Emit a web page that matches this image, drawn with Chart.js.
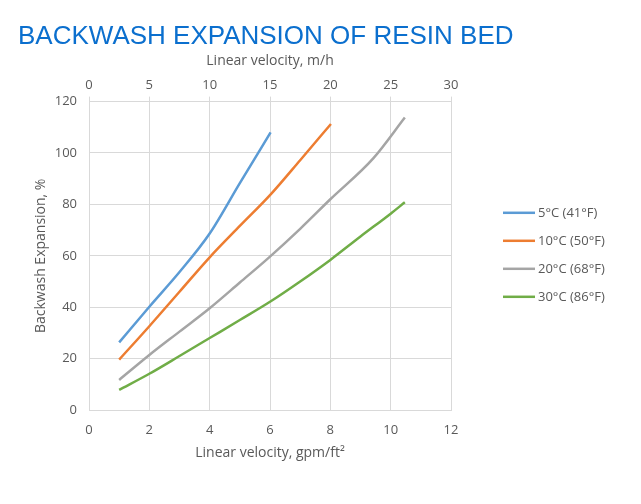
<!DOCTYPE html>
<html>
<head>
<meta charset="utf-8">
<script src="https://cdn.jsdelivr.net/npm/chart.js@4/dist/chart.umd.min.js"></script>
<style>
  html, body { margin: 0; padding: 0; background: #ffffff; }
  #wrap { position: relative; width: 641px; height: 504px; }
</style>
</head>
<body>
<div id="wrap"><canvas id="c" width="641" height="504"></canvas></div>
<script>
const chartTitle = "BACKWASH EXPANSION OF RESIN BED";
const topAxisTitle = "Linear velocity, m/h";
const bottomAxisTitle = "Linear velocity, gpm/ft\u00B2";
const yAxisTitle = "Backwash Expansion, %";

const seriesNames = ["5\u00B0C (41\u00B0F)", "10\u00B0C (50\u00B0F)", "20\u00B0C (68\u00B0F)", "30\u00B0C (86\u00B0F)"];
const seriesColors = ["#5b9bd5", "#ed7d31", "#a5a5a5", "#70ad47"];

const x5C  = [1, 2, 3, 4, 5, 6.02];
const y5C  = [26.3, 40.2, 53.7, 68.7, 88.3, 108];
const x10C = [1, 2, 3, 4, 5, 6, 7, 8.02];
const y10C = [19.6, 32.6, 46, 59.4, 71.6, 83.6, 97.2, 111.3];
const x20C = [1, 2, 3, 4, 5, 6, 7, 8, 9.43, 10.47];
const y20C = [11.7, 21.4, 30.5, 39.6, 49.6, 59.7, 70.5, 82, 98, 113.8];
const x30C = [1, 2, 3, 4, 5, 6, 7, 8, 9, 10, 10.47];
const y30C = [7.8, 14.1, 21, 28, 35, 42.1, 50, 58.4, 67.5, 76.4, 80.8];

const xTicksBottom = { min: 0, max: 12, step: 2 };
const xTicksTop = { min: 0, max: 30, step: 5 };
const yTicks = { min: 0, max: 120, step: 20 };

const seriesX = [x5C, x10C, x20C, x30C];
const seriesY = [y5C, y10C, y20C, y30C];

const textColor = "#595959";
const gridColor = "#d9d9d9";
const baseFont = "'Open Sans', 'Liberation Sans', sans-serif";

const datasets = seriesNames.map((name, i) => ({
  label: name,
  data: seriesX[i].map((x, j) => ({ x: x, y: seriesY[i][j] })),
  borderColor: seriesColors[i],
  backgroundColor: seriesColors[i],
  borderWidth: 2.5,
  pointRadius: 0,
  pointHoverRadius: 0,
  cubicInterpolationMode: 'monotone',
  fill: false,
  xAxisID: 'x'
}));

// Legend drawn at the right of the plot, from the chart's own datasets
const sideLegend = {
  id: 'sideLegend',
  afterDraw(chart) {
    const ctx = chart.ctx;
    const area = chart.chartArea;
    const ds = chart.data.datasets;
    const spacing = 28;
    const cy = (area.top + area.bottom) / 2 - 1;
    const x0 = area.right + 52;
    ctx.save();
    ctx.font = "13px " + baseFont;
    ctx.textBaseline = 'middle';
    ctx.textAlign = 'left';
    ds.forEach((d, i) => {
      const y = cy + (i - (ds.length - 1) / 2) * spacing;
      ctx.strokeStyle = d.borderColor;
      ctx.lineWidth = 2.5;
      ctx.beginPath();
      ctx.moveTo(x0, y);
      ctx.lineTo(x0 + 32, y);
      ctx.stroke();
      ctx.fillStyle = textColor;
      ctx.fillText(d.label, x0 + 35, y);
    });
    ctx.restore();
  }
};

new Chart(document.getElementById('c'), {
  type: 'line',
  data: { datasets: datasets },
  options: {
    responsive: false,
    animation: false,
    devicePixelRatio: 1,
    layout: { padding: { left: 18, right: 100, top: 0, bottom: 42.6 } },
    plugins: {
      title: {
        display: true,
        text: chartTitle,
        align: 'start',
        color: '#0b6fce',
        font: { family: "'Liberation Sans', Arial, sans-serif", size: 26, weight: 'normal' },
        padding: { top: 21, bottom: 0 }
      },
      legend: { display: false },
      tooltip: { enabled: false }
    },
    scales: {
      x: {
        type: 'linear',
        position: 'bottom',
        min: xTicksBottom.min,
        max: xTicksBottom.max,
        ticks: { stepSize: xTicksBottom.step, color: textColor, font: { family: baseFont, size: 13 }, padding: 12 },
        grid: { color: gridColor, drawTicks: false },
        border: { color: gridColor },
        title: { display: true, text: bottomAxisTitle, color: textColor, font: { family: baseFont, size: 14 }, padding: { top: 0, bottom: 0 } },
        afterFit: (scale) => { scale.height = 51.4; }
      },
      x2: {
        type: 'linear',
        position: 'top',
        min: xTicksTop.min,
        max: xTicksTop.max,
        ticks: { stepSize: xTicksTop.step, color: textColor, font: { family: baseFont, size: 13 }, padding: 4 },
        grid: { color: gridColor, drawOnChartArea: false, drawTicks: true, tickLength: 5 },
        border: { color: gridColor },
        title: { display: true, text: topAxisTitle, color: textColor, font: { family: baseFont, size: 14 }, padding: { top: 0, bottom: 0 } },
        afterFit: (scale) => { scale.height = 49.4; }
      },
      y: {
        type: 'linear',
        min: yTicks.min,
        max: yTicks.max,
        ticks: { stepSize: yTicks.step, color: textColor, font: { family: baseFont, size: 13 }, padding: 12 },
        grid: { color: gridColor, drawTicks: false },
        border: { color: gridColor },
        title: { display: true, text: yAxisTitle, color: textColor, font: { family: baseFont, size: 14 }, padding: { top: 14.6, bottom: 0 } },
        afterFit: (scale) => { scale.width = 71; }
      },
      legendSpace: {
        type: 'linear',
        position: 'right',
        display: true,
        ticks: { display: false },
        grid: { display: false, drawTicks: false },
        border: { display: false },
        title: { display: false },
        afterFit: (scale) => { scale.width = 90; }
      }
    }
  },
  plugins: [sideLegend]
});
</script>
</body>
</html>
